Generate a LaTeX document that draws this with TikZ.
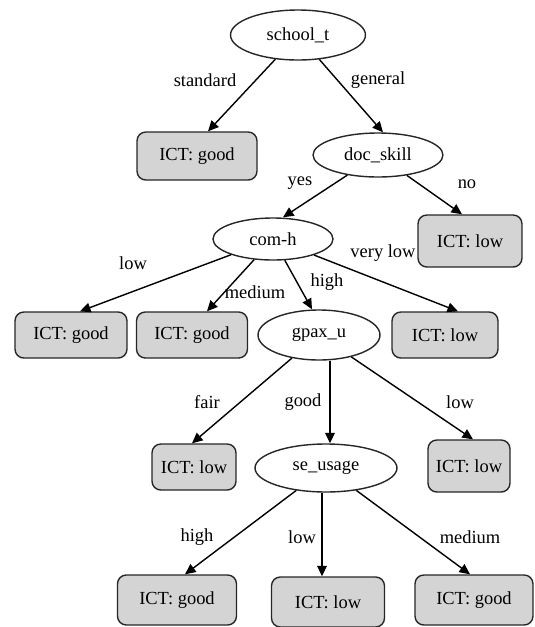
\documentclass[tikz,border=0pt]{standalone}
\usepackage{fontspec}
\setmainfont{Liberation Serif}
\usetikzlibrary{shapes.geometric,arrows.meta,calc}
\tikzset{
	attr/.style={draw=black!85,ellipse,thick,inner sep=0pt,font=\fontsize{10.5}{12}\selectfont},
	leaf/.style={draw=black!85,fill=black!17,rounded corners=5pt,thick,inner sep=0pt,minimum height=0.92cm,font=\fontsize{10.5}{12}\selectfont},
	edge/.style={thick,-{Triangle[length=6pt,width=5.5pt]}},
	lbl/.style={inner sep=1pt,font=\fontsize{10.5}{12}\selectfont}
}
\begin{document}
\begin{tikzpicture}[x=0.02cm,y=-0.02cm]
	\useasboundingbox (0,0) rectangle (535,627);
	\node[attr,minimum width=2.7cm,minimum height=1cm] (st) at (298,35) {school\_t};
	\node[leaf,minimum width=2.4cm,minimum height=0.96cm] (ga) at (197,156) {ICT: good};
	\node[attr,minimum width=2.6cm,minimum height=0.88cm] (doc) at (378,155) {doc\_skill};
	\node[leaf,minimum width=2.08cm,minimum height=1.04cm] (la) at (470,241) {ICT: low};
	\node[attr,minimum width=2.4cm,minimum height=0.84cm] (comh) at (273,239) {com-h};
	\node[leaf,minimum width=2.24cm] (gb) at (71,335) {ICT: good};
	\node[leaf,minimum width=2.22cm] (gc) at (192,335) {ICT: good};
	\node[attr,minimum width=2.44cm,minimum height=1cm] (gpax) at (319,335) {gpax\_u};
	\node[leaf,minimum width=2.12cm] (lb) at (445,335) {ICT: low};
	\node[leaf,minimum width=1.68cm] (lc) at (194,467) {ICT: low};
	\node[attr,minimum width=2.84cm,minimum height=0.96cm] (se) at (326,468) {se\_usage};
	\node[leaf,minimum width=1.64cm,minimum height=1.04cm] (ld) at (469,466) {ICT: low};
	\node[leaf,minimum width=2.38cm,minimum height=1cm] (gd) at (177,600) {ICT: good};
	\node[leaf,minimum width=2.26cm,minimum height=1cm] (le) at (328,602) {ICT: low};
	\node[leaf,minimum width=2.36cm,minimum height=1cm] (ge) at (474,600) {ICT: good};

	\draw[edge] (st) -- ($(ga.north)+(11,0)$);
	\draw[edge] (st) -- ($(doc.north)+(5,0)$);
	\draw[edge] (doc) -- ($(comh.north)+(10,0)$);
	\draw[edge] (doc) -- ($(la.north)+(-8,0)$);
	\draw[edge] (comh) -- ($(gb.north)+(9,0)$);
	\draw[edge] (comh) -- ($(gc.north)+(15,0)$);
	\draw[edge] (comh) -- ($(gpax.north)+(-7,0)$);
	\draw[edge] (comh) -- ($(lb.north)+(13,0)$);
	\draw[edge] (gpax) -- ($(lc.north)+(-2,0)$);
	\draw[edge] ($(gpax.south)+(11,0)$) -- ($(se.north)+(4,0)$);
	\draw[edge] (gpax) -- ($(ld.north)+(4,0)$);
	\draw[edge] (se) -- ($(gd.north)+(8,0)$);
	\draw[edge] ($(se.south)+(-4,0)$) -- ($(le.north)+(-6,0)$);
	\draw[edge] (se) -- ($(ge.north)+(-4,0)$);

	\node[lbl] (l1) at (205,80) {standard};
	\node[lbl] (l2) at (378,80) {general};
	\node[lbl] (l3) at (300,183) {yes};
	\node[lbl] (l4) at (467,184) {no};
	\node[lbl] (l5) at (133,263) {low};
	\node[lbl] (l6) at (255,292) {medium};
	\node[lbl] (l7) at (327,282) {high};
	\node[lbl] (l8) at (383,253) {very low};
	\node[lbl] (l9) at (207,402) {fair};
	\node[lbl] (l10) at (303,402) {good};
	\node[lbl] (l11) at (460,402) {low};
	\node[lbl] (l12) at (197,537) {high};
	\node[lbl] (l13) at (302,537) {low};
	\node[lbl] (l14) at (470,537) {medium};
\end{tikzpicture}
\end{document}
